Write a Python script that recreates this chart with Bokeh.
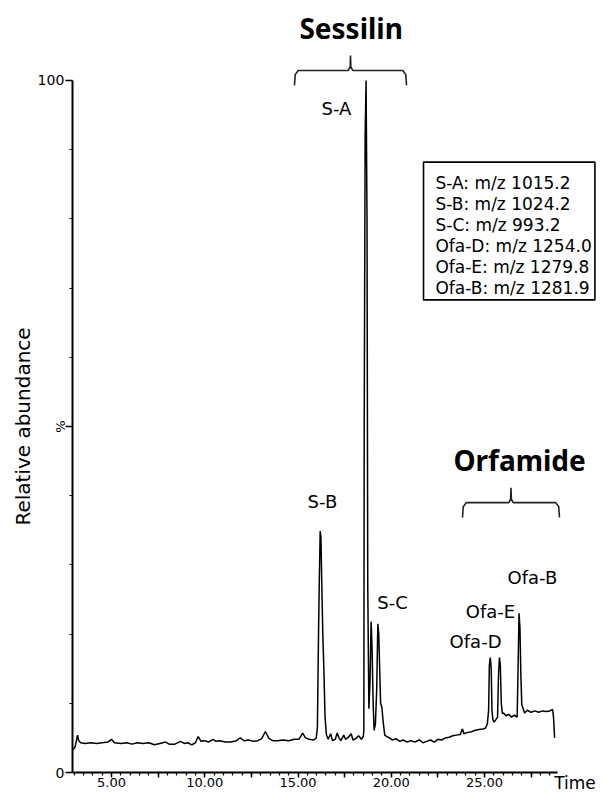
import math
from bokeh.plotting import figure
from bokeh.models import FixedTicker, BoxAnnotation, Label, ColumnDataSource
from bokeh.core.properties import value
from bokeh.embed import file_html
from bokeh.resources import INLINE

# ---------------- data ----------------
time_min = [2.95, 3.05, 3.12, 3.18, 3.24, 3.35, 3.6, 3.9, 4.2, 4.5, 4.8, 5.0, 5.15, 5.5, 5.8,
            6.1, 6.4, 6.7, 7.0, 7.3, 7.6, 7.9, 8.1, 8.4, 8.7, 8.9, 9.1, 9.3, 9.5, 9.65,
            9.8, 10.0, 10.2, 10.45, 10.6, 10.8, 11.1, 11.4, 11.7, 11.9, 12.1, 12.35, 12.6, 12.85,
            13.05, 13.25, 13.45, 13.65, 13.9, 14.2, 14.5, 14.8, 15.05, 15.25, 15.4, 15.6, 15.85,
            15.98, 16.04, 16.1, 16.14, 16.19, 16.23, 16.27, 16.33, 16.39, 16.45, 16.52, 16.62,
            16.75, 16.85, 17.0, 17.1, 17.2, 17.3, 17.45, 17.55, 17.7, 17.85, 17.95, 18.1, 18.25,
            18.4, 18.5, 18.53, 18.55, 18.6, 18.65, 18.7, 18.74, 18.8, 18.86, 18.92, 18.97, 19.03,
            19.08, 19.15, 19.22, 19.28, 19.33, 19.38, 19.43, 19.5, 19.56, 19.65, 19.75, 19.9,
            20.05, 20.25, 20.45, 20.65, 20.85, 21.05, 21.25, 21.5, 21.7, 21.9, 22.1, 22.3, 22.5,
            22.7, 22.9, 23.1, 23.3, 23.5, 23.7, 23.82, 23.9, 24.1, 24.3, 24.5, 24.7, 24.9, 25.05,
            25.15, 25.22, 25.26, 25.31, 25.36, 25.4, 25.45, 25.52, 25.6, 25.7, 25.75, 25.8, 25.85,
            25.9, 25.96, 26.02, 26.15, 26.3, 26.45, 26.6, 26.75, 26.8, 26.85, 26.9, 26.95, 27.0,
            27.05, 27.15, 27.3, 27.5, 27.7, 27.9, 28.1, 28.3, 28.5, 28.65, 28.7, 28.76]
abundance = [3.3, 3.7, 4.6, 5.4, 4.6, 4.3, 4.2, 4.3, 4.2, 4.3, 4.4, 4.8, 4.3, 4.2, 4.3,
             4.1, 4.3, 4.2, 4.3, 4.0, 4.2, 4.4, 4.1, 4.1, 4.5, 4.2, 4.3, 4.0, 4.3, 5.2,
             4.5, 4.6, 4.4, 4.8, 4.5, 4.6, 4.4, 4.4, 4.6, 5.0, 4.6, 4.7, 4.5, 4.6,
             4.9, 5.9, 4.9, 4.6, 4.6, 4.7, 4.6, 4.8, 4.8, 5.7, 5.0, 4.8, 4.7,
             5.0, 6.5, 20.0, 27.5, 34.9, 34.0, 28.0, 20.0, 14.6, 8.0, 5.5, 4.8,
             5.6, 4.6, 4.8, 5.7, 5.0, 4.6, 5.4, 4.8, 5.1, 5.6, 4.7, 4.9, 5.3,
             4.8, 5.2, 6.0, 50.0, 92.0, 100.0, 80.0, 27.0, 9.2, 13.0, 21.8, 18.0, 10.0,
             6.1, 7.0, 12.0, 21.5, 20.0, 15.0, 10.0, 9.4, 7.5, 5.4, 5.2, 5.0,
             4.7, 4.9, 4.5, 4.7, 4.4, 4.6, 4.4, 4.7, 4.3, 4.5, 4.7, 4.4, 4.8,
             4.7, 5.0, 5.1, 5.3, 5.4, 5.5, 6.3, 5.6, 5.8, 5.9, 6.1, 6.2, 6.3, 6.4,
             7.0, 9.0, 15.5, 16.6, 15.0, 9.0, 7.6, 7.3, 7.6, 8.0, 14.0, 16.6, 15.5,
             10.0, 8.5, 8.6, 8.2, 8.4, 8.0, 8.3, 8.0, 15.0, 23.0, 21.0, 14.0, 9.8,
             9.4, 8.6, 9.0, 8.7, 8.9, 8.7, 8.9, 8.8, 8.9, 9.1, 8.0, 5.0]

peak_names = ["S-A", "S-B", "S-C", "Ofa-D", "Ofa-E", "Ofa-B"]
legend_lines = ["S-A: m/z 1015.2", "S-B: m/z 1024.2", "S-C: m/z 993.2",
                "Ofa-D: m/z 1254.0", "Ofa-E: m/z 1279.8", "Ofa-B: m/z 1281.9"]
group_names = ["Sessilin", "Orfamide"]
group_start = [14.81, 23.82]   # min
group_end = [20.82, 29.02]     # min

x_tick_values = [5, 10, 15, 20, 25]
x_tick_labels = ["5.00", "10.00", "15.00", "20.00", "25.00"]
y_tick_values = [0, 100]
y_tick_labels = ["0", "100"]

# ---------------- layout / style ----------------
X0, X1 = -0.952, 31.005
Y0, Y1 = -2.89, 111.56
T0, T1 = 2.9, 28.9          # extent of the time axis
FONT = "DejaVu Sans"

p = figure(width=596, height=792, x_range=(X0, X1), y_range=(Y0, Y1),
           output_backend="svg", toolbar_location=None,
           min_border_left=0, min_border_right=0, min_border_top=0, min_border_bottom=0)
p.outline_line_color = None
p.grid.visible = False
p.background_fill_color = "white"

# x axis (drawn at 0 %)
xa = p.xaxis[0]
half_ticks = [2.5 * k for k in range(2, 12)]
xa.ticker = FixedTicker(ticks=half_ticks, minor_ticks=[3.0 + 0.5 * k for k in range(52)])
overrides = {t: "" for t in half_ticks}
for v, s in zip(x_tick_values, x_tick_labels):
    overrides[v] = s
xa.major_label_overrides = overrides
xa.fixed_location = 0
xa.bounds = (T0, T1)
xa.axis_line_width = 2
xa.axis_line_color = "black"
xa.major_tick_line_width = 1.5
xa.minor_tick_line_width = 1.2
xa.major_tick_out = 5
xa.major_tick_in = 0
xa.minor_tick_out = 3
xa.minor_tick_in = 0
xa.major_label_standoff = 0
xa.major_label_text_font = FONT
xa.major_label_text_font_size = "13px"
xa.major_label_text_color = "black"

# y axis (drawn at the start of the run)
ya = p.yaxis[0]
ya.ticker = FixedTicker(ticks=[0, 50, 100], minor_ticks=[10 * k for k in range(1, 10)])
yo = {50: ""}
for v, s in zip(y_tick_values, y_tick_labels):
    yo[v] = s
ya.major_label_overrides = yo
ya.fixed_location = T0
ya.bounds = (0, 100)
ya.axis_line_width = 2
ya.axis_line_color = "black"
ya.major_tick_line_width = 1.5
ya.major_tick_out = 7
ya.major_tick_in = 0
ya.minor_tick_out = 3
ya.minor_tick_in = 0
ya.major_label_standoff = 1
ya.major_label_text_font = FONT
ya.major_label_text_font_size = "14px"
ya.major_label_text_color = "black"
ya.axis_label = "Relative abundance"
ya.axis_label_text_font = FONT
ya.axis_label_text_font_style = "normal"
ya.axis_label_text_font_size = "20px"
ya.axis_label_text_color = "black"
ya.axis_label_standoff = 0

# chromatogram
p.line(time_min, abundance, line_color="black", line_width=1.5)

# peak labels
lab_src = ColumnDataSource(dict(
    x=[17.06, 16.31, 20.07, 24.52, 25.32, 27.57],
    y=[95.9, 39.1, 24.6, 18.9, 23.2, 28.2],
    t=peak_names))
p.text(x="x", y="y", text="t", source=lab_src, text_font=value(FONT),
       text_font_size="18px", text_align="center", text_baseline="middle", text_color="black")

# group braces and titles
brace_bar_y = [101.45, 39.0]
brace_drop = 2.15
brace_tip = 2.15
title_x = [17.85, 26.88]
title_y = [107.6, 45.2]
for name, a, b, by, tx, ty in zip(group_names, group_start, group_end, brace_bar_y, title_x, title_y):
    c = (a + b) / 2
    bx = [a, a + 0.04, a + 0.2, c - 0.12, c - 0.02, c, c + 0.02, c + 0.12, b - 0.2, b - 0.04, b]
    byy = [by - brace_drop, by - 0.6, by, by, by + 0.5, by + brace_tip, by + 0.5, by, by, by - 0.6, by - brace_drop]
    p.line(bx, byy, line_color="#222222", line_width=1.6)
    p.text(x=[tx], y=[ty], text=[name], text_font=value("Noto Sans"), text_font_style="bold",
           text_font_size="28px", text_align="center", text_baseline="middle", text_color="black")

# legend box with m/z list
box = BoxAnnotation(left=21.73, right=30.92, top=88.2, bottom=68.3, level="underlay",
                    fill_color="white", fill_alpha=1.0, line_color="black", line_alpha=1.0,
                    line_width=1.6)
p.add_layout(box)
leg_y0 = 85.2
leg_dy = 3.03
p.text(x=[22.37] * len(legend_lines), y=[leg_y0 - i * leg_dy for i in range(len(legend_lines))],
       text=legend_lines, text_font=value(FONT), text_font_size="17px",
       text_align="left", text_baseline="middle", text_color="black")

# '%' on the y axis and 'Time' at the end of the x axis
p.add_layout(Label(x=2.27, y=50, text="%", angle=math.pi / 2, text_align="center",
                   text_baseline="middle", text_font=FONT, text_font_size="13px",
                   text_color="black"))
p.add_layout(Label(x=29.85, y=0, y_offset=0, text="Time", text_align="center",
                   text_baseline="top", text_font=FONT, text_font_size="17px",
                   text_color="black"))

open("out.html", "w").write(file_html(p, INLINE))
